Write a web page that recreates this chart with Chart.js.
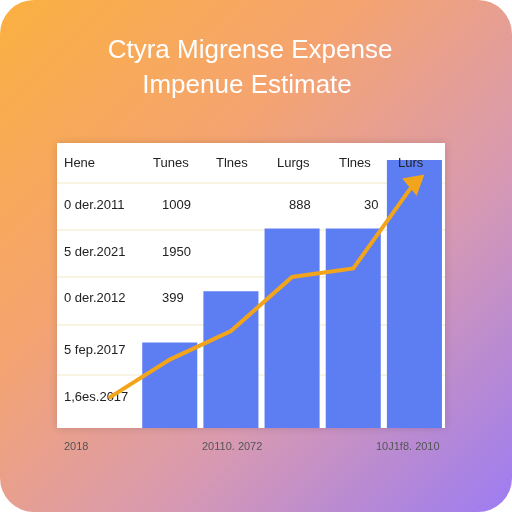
<!DOCTYPE html>
<html><head>
<script src="https://cdn.jsdelivr.net/npm/chart.js@4"></script>
<style>
html,body{margin:0;padding:0;background:#fff}
#card{position:absolute;left:0;top:0;width:512px;height:512px;border-radius:34px;
background:linear-gradient(135deg,#fbb040 0%,#f5a470 35%,#d99ab0 65%,#9c7cf2 100%)}
canvas{position:absolute;left:0;top:0}
</style></head>
<body>
<div id="card"></div>
<canvas id="c" width="512" height="512"></canvas>
<script>
// data
let slots = ['a','b','c','d','e','f']
let barValues = [null,30,48,70,70,94]
let lineValues = [10.5,24,34,53,56,86]
let headers = ['Hene','Tunes','Tlnes','Lurgs','Tlnes','Lurs']
let rowLabels = ['0 der.2011','5 der.2021','0 der.2012','5 fep.2017','1,6es.2017']
let rowValues = [['1009','','888','30'],['1950','','',''],['399','1','',''],['','','',''],['','','','']]
let bottomLabels = ['2018','20110. 2072','10J1f8. 2010']

const panel = {
  id:'panel',
  beforeDraw(chart){
    let c = chart.ctx
    c.save()
    c.shadowColor='rgba(0,0,0,0.15)'; c.shadowBlur=8
    c.fillStyle='#fff'; c.fillRect(57,143,388,285)
    c.restore()
    c.save()
    c.strokeStyle='#f3e7c8'; c.lineWidth=1
    for(let y of [183,230,277,325,375]){c.beginPath();c.moveTo(57,y);c.lineTo(445,y);c.stroke()}
    c.fillStyle='#222'; c.font='13px "Liberation Sans", Arial'; c.textBaseline='middle'
    let ry=[205,252,298,350,397]
    let vx=[162,242,289,364]
    rowLabels.forEach((l,i)=>{
      c.fillText(l,64,ry[i])
      rowValues[i].forEach((v,j)=>{ if(v) c.fillText(v,vx[j],ry[i]) })
    })
    c.fillStyle='#555'; c.font='11px "Liberation Sans", Arial'
    let bx=[64,202,376]
    bottomLabels.forEach((b,i)=>c.fillText(b,bx[i],447))
    c.restore()
  }
}

new Chart(document.getElementById('c').getContext('2d'),{
  data:{
    labels:slots,
    datasets:[
      {type:'line',data:lineValues,borderColor:'#f2a51a',borderWidth:4,tension:0,
       pointRadius:[0,0,0,0,0,9],pointStyle:'triangle',pointRotation:[0,0,0,0,0,50],
       pointBackgroundColor:'#f2a51a',pointBorderColor:'#f2a51a',order:0},
      {type:'bar',data:barValues,backgroundColor:'#5d7ef2',barPercentage:0.9,categoryPercentage:1,order:1}
    ]
  },
  options:{
    responsive:false,animation:false,
    layout:{padding:{left:78,right:67,top:143,bottom:84}},
    plugins:{legend:{display:false},tooltip:{enabled:false},title:{display:false}},
    scales:{x:{display:false},y:{display:false,min:0,max:100}}
  },
  plugins:[panel,{
    id:'titles',
    afterDraw(chart){
      let c=chart.ctx; c.save()
      c.fillStyle='#222'; c.font='13px "Liberation Sans", Arial'; c.textBaseline='middle'
      let hx=[64,153,216,277,339,398]
      headers.forEach((h,i)=>c.fillText(h,hx[i],163))
      c.fillStyle='#fff'; c.font='26px "Liberation Sans", Arial'; c.textAlign='center'; c.textBaseline='alphabetic'
      c.fillText('Ctyra Migrense Expense',250,58)
      c.fillText('Impenue Estimate',247,93)
      c.restore()
    }
  }]
})
</script>
</body></html>
